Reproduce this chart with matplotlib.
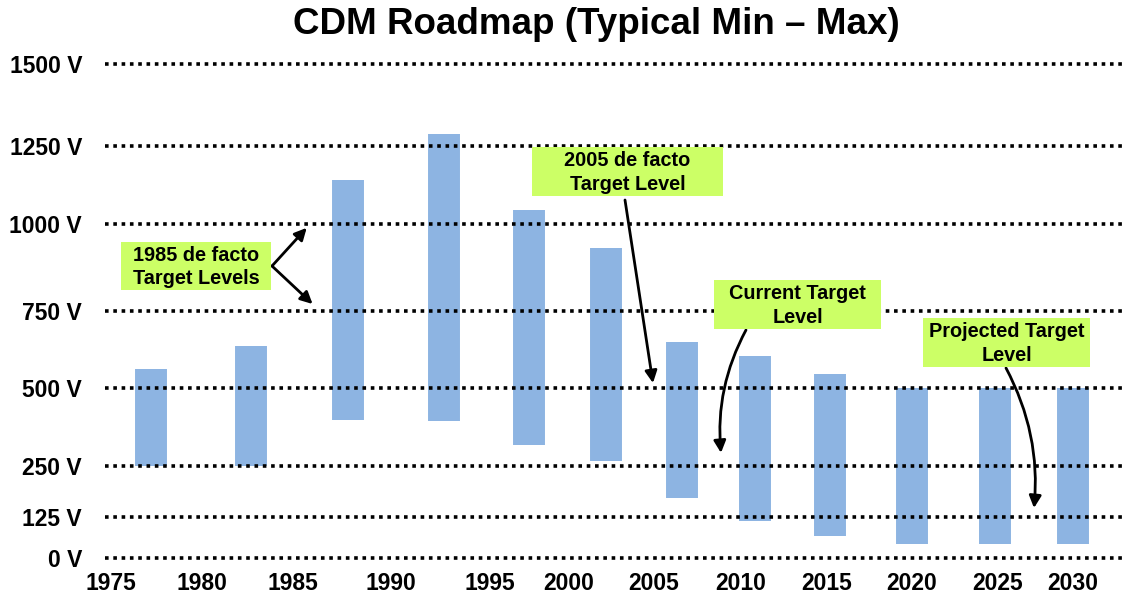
import numpy as np
import matplotlib
matplotlib.use("Agg")
import matplotlib.pyplot as plt
from matplotlib.patches import Rectangle

plt.rcParams['font.family'] = ['Liberation Sans', 'DejaVu Sans']
plt.rcParams['font.weight'] = 'bold'

W, H = 1124, 599

# typical CDM min / max per period (volts)
bar_years = [1977.2, 1982.7, 1987.8, 1992.7, 1997.5, 2002.2,
             2006.6, 2010.8, 2015.2, 2020.0, 2024.8, 2030.0]
v_min = [250, 250, 397, 394, 317, 266, 172, 113, 67, 43, 43, 43]
v_max = [562, 636, 1141, 1287, 1045, 931, 649, 604, 545, 500, 500, 500]

y_ticks = [0, 125, 250, 500, 750, 1000, 1250, 1500]
x_ticks = [1975, 1980, 1985, 1990, 1995, 2000, 2005, 2010, 2015, 2020, 2025, 2030]

# the slide axes are not evenly spaced, spacing read off the picture (px)
y_pos = [0, 41, 92, 170, 247, 334, 412, 494]
x_pos = [111, 202, 293, 391, 490, 569, 654, 741, 827, 912, 998, 1073]


def piecewise(vals, pos):
    v = np.r_[2 * vals[0] - vals[1], vals, 2 * vals[-1] - vals[-2]].astype(float)
    p = np.r_[2 * pos[0] - pos[1], pos, 2 * pos[-1] - pos[-2]].astype(float)
    return (lambda a: np.interp(a, v, p)), (lambda a: np.interp(a, p, v))


xf, xi = piecewise(x_ticks, x_pos)
yf, yi = piecewise(y_ticks, y_pos)

fig = plt.figure(figsize=(W / 100, H / 100), dpi=100)
ax = fig.add_axes([105 / W, 39 / H, 1017 / W, 498 / H])
ax.set_xscale('function', functions=(xf, xi))
ax.set_yscale('function', functions=(yf, yi))
ax.set_xlim(xi(105), xi(1122))
ax.set_ylim(yi(-2), yi(496))

ax.vlines(bar_years, v_min, v_max, colors='#8DB4E2', linewidth=23,
          capstyle='butt', zorder=2)

for v in y_ticks:
    ax.axhline(v, color='black', lw=2.6, ls=(0, (1, 1.3)),
               dash_capstyle='butt', zorder=3)

ax.set_yticks(y_ticks, [f'{v} V' for v in y_ticks])
ax.set_xticks(x_ticks, [str(y) for y in x_ticks])
ax.tick_params(axis='y', length=0, pad=16.5, labelsize=16.5)
ax.tick_params(axis='x', length=0, pad=9, labelsize=16.5)
ax.minorticks_off()
for s in ax.spines.values():
    s.set_visible(False)

fig.text(596.5 / W, 1 - 25 / H, 'CDM Roadmap (Typical Min \u2013 Max)',
         fontsize=26.5, fontweight='bold', ha='center', va='center')


def fpx(x, y):
    return x / W, 1 - y / H


# callout boxes (picture px: x0, y0, x1, y1)
notes = [
    ('1985 de facto\nTarget Levels', (121, 242, 271, 290)),
    ('2005 de facto\nTarget Level', (532, 147, 723, 196)),
    ('Current Target\nLevel', (714, 280, 881, 329)),
    ('Projected Target\nLevel', (923, 318, 1090, 367)),
]
for txt, (x0, y0, x1, y1) in notes:
    fig.add_artist(Rectangle(fpx(x0, y1), (x1 - x0) / W, (y1 - y0) / H,
                             transform=fig.transFigure, facecolor='#CCFF66',
                             edgecolor='none', zorder=4))
    fig.text(*fpx((x0 + x1) / 2, (y0 + y1) / 2 + 1), txt, fontsize=14.3,
             ha='center', va='center', linespacing=1.32, zorder=5)

# arrows: tail in picture px, tip in data
arrows = [
    ((272, 266), (1985.7, 989), 'arc3,rad=0'),
    ((272, 266), (1986.0, 770), 'arc3,rad=0'),
    ((625, 200), (2004.94, 516), 'arc3,rad=0'),
    ((746, 330), (2008.85, 292), 'arc3,rad=0.15'),
    ((1006, 368), (2027.4, 147), 'arc3,rad=-0.15'),
]
for tail, tip, cs in arrows:
    ax.annotate('', xy=tip, xytext=fpx(*tail), textcoords='figure fraction',
                arrowprops=dict(arrowstyle='-|>', color='black', lw=2.0,
                                mutation_scale=18, shrinkA=0, shrinkB=0,
                                connectionstyle=cs),
                zorder=6)

fig.savefig('out.png', dpi=100)
